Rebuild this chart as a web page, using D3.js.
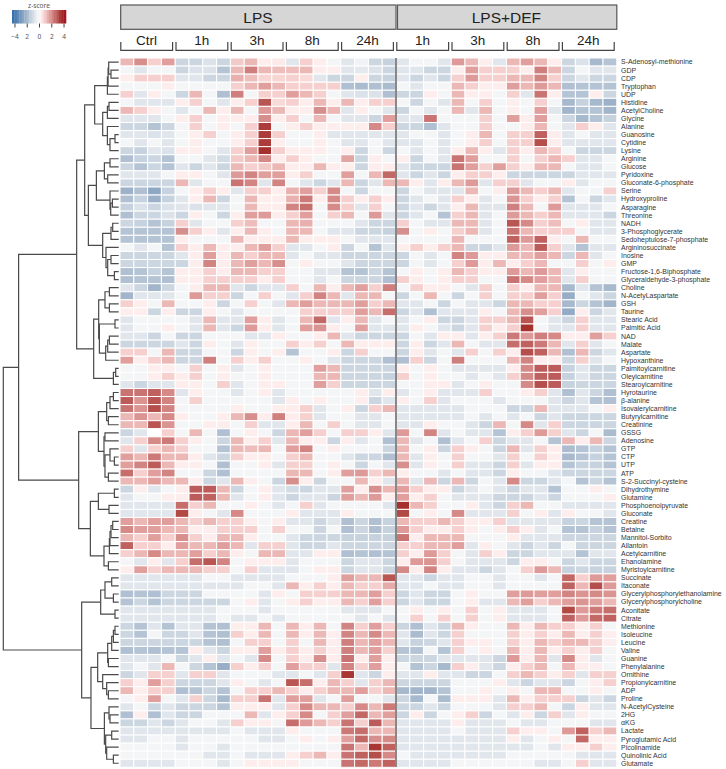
<!DOCTYPE html>
<html>
<head>
<meta charset="utf-8">
<script src="https://cdn.jsdelivr.net/npm/d3@7"></script>
<style>
    body{margin:0;background:#fff;}
    svg{display:block;}
    text{font-family:"Liberation Sans",Arial,sans-serif;}
    .rowlabel{font-size:6.95px;fill:#333;}
    .legend text{font-family:"Noto Sans",sans-serif;font-size:6.6px;fill:#555;}
    .treeline{fill:none;stroke:#4a4a4a;stroke-width:1.2;}
</style>
</head>
<body>
<script>
var w=726,h=769;

var metabolites=["S-Adenosyl-methionine","GDP","CDP","Tryptophan","UDP","Histidine","AcetylCholine","Glycine","Alanine","Guanosine","Cytidine","Lysine","Arginine","Glucose","Pyridoxine","Gluconate-6-phosphate","Serine","Hydroxyproline","Asparagine","Threonine","NADH","3-Phosphoglycerate","Sedoheptulose-7-phosphate","Argininosuccinate","Inosine","GMP","Fructose-1,6-Biphosphate","Glyceraldehyde-3-phosphate","Choline","N-AcetyLaspartate","GSH","Taurine","Stearic Acid","Palmitic Acid","NAD","Malate","Aspartate","Hypoxanthine","Palmitoylcarnitine","Oleylcarnitine","Stearoylcarnitine","Hyrotaurine","β-alanine","Isovalerylcarnitine","Butyrylcarnitine","Creatinine","GSSG","Adenosine","GTP","CTP","UTP","ATP","S-2-Succinyl-cysteine","Dihydrothymine","Glutamine","Phosphoenolpyruvate","Gluconate","Creatine","Betaine","Mannitol-Sorbito","Allantoin","Acetylcarnitine","Ehanolamine","Myristoylcarnitine","Succinate","Itaconate","Glycerylphosphorylethanolamine","Glycerylphosphorylcholine","Aconitate","Citrate","Methionine","Isoleucine","Leucine","Valine","Guanine","Phenylalanine","Ornithine","Propionylcarnitine","ADP","Proline","N-AcetylCysteine","2HG","αKG","Lactate","Pyroglutamic Acid","Picolinamide","Quinolinic Acid","Glutamate"];

var treatments=["LPS","LPS+DEF"];
var lpsGroups=["Ctrl","1h","3h","8h","24h"];
var defGroups=["1h","3h","8h","24h"];
var legendTicks=[-4,-2,0,2,4];
var legendTickLabels=["−4","2","0","2","4"];

// z-scores, Ctrl 1h 3h 8h 24h, 4 replicates each
var lpsValues=[
[1.3,2,.9,1.7,-1.2,-1.2,-.8,-1.2,1,1.3,.3,.4,-.7,.9,.3,-.2,-.7,-.3,-1.2,-1.3],
[-.2,-.7,-.2,-.2,-1.2,-.8,-.8,-1.7,1.3,2.3,1.3,1.2,1.2,1.3,.3,.3,-.7,-.6,-.8,-1.2],
[.3,.9,.9,.9,-.7,-.7,-1.2,-1.2,1.4,1.2,.8,.8,.9,.7,-.7,-1.2,-1.2,.3,-1.2,-1.3],
[-.2,-.2,-.2,.3,-.2,-.2,-.2,-.2,.9,1.3,1.7,1.3,.9,.9,.9,.9,-1.8,-1.9,-1.8,-1.9],
[.9,-.7,.3,-.2,-1.2,1.3,-.2,-1.8,2.3,-.2,.9,.9,1.7,1.3,.9,-.2,-.7,-.8,-.8,-1.8],
[-.2,-.7,-.7,-.7,.3,.9,-.2,-.7,.3,.9,3,.7,.9,.3,1.3,.3,1.3,.3,.9,.9],
[1.3,.9,.3,-.2,-.7,-.2,1.3,.3,1.3,-.2,1.8,1.3,.3,.3,2,1.3,-.7,.3,-.2,-.7],
[-.7,-.7,-.7,-.2,.3,.9,-.2,.3,.3,.3,2,.3,.9,-.2,1.3,-.2,-.7,-.7,-1.2,1.7],
[-1.2,-1.2,-1.7,-1.2,-.2,.9,-.2,.3,-.2,.9,3.4,-.2,.3,.9,.3,.3,.3,.3,2.1,.9],
[-.7,-.7,-.8,-.7,-.2,.3,.9,-.2,.3,.9,3.4,.9,-.2,-.2,.3,-.7,-.7,-.7,-.7,-.7],
[-.2,-.7,-.2,-.7,-.2,.3,-.2,-.2,.3,.9,3.4,.3,-.2,-.2,.3,-.2,-.7,-.7,-.2,-.7],
[-1.2,-1.3,-.7,-.8,.3,.3,-.2,-.7,.9,1.7,3.6,.9,.3,.3,.3,-.2,.3,-1.2,-.2,-1.2],
[-1.8,-1.3,-1.2,-1.7,-.2,-.2,-.7,-1,1,1.3,2.1,.3,.9,.3,-.2,-.2,1.6,-1.2,.3,-.2],
[-1.2,-1.7,-1.2,-1.7,-.7,-1.2,-.7,-1.2,1.3,.9,1,1.3,.3,.3,1.3,.3,.3,-1.2,.3,.3],
[-.7,-.7,-.7,-.2,.3,.3,-.2,-.7,1.8,2.2,1.7,1.7,.3,.9,-.2,-.2,1.7,-.2,1.3,2.7],
[-1.2,-1.2,-1.2,-1.2,1.3,-.7,-.2,-.2,2.5,2.2,-.7,2.2,-.2,-.7,-1.2,-.7,1.3,-1.2,-.7,1.3],
[-2.2,-1.8,-2.5,-1.3,-.2,.3,.9,.3,-.7,.9,.9,.3,1.4,1.7,.9,2.1,-.2,-1.2,-.2,-.2],
[-1.8,-1.3,-2.2,-1.3,-.7,.3,1.3,-1.2,-.2,1.3,.3,.3,1.4,2.4,.3,2.1,.9,.3,.9,.3],
[-1.3,-.8,-1.2,-.8,-.7,-.8,-.7,-.7,-.2,1.3,.3,.3,2.2,2.6,-.2,2.1,.9,-.7,.9,-.2],
[-1.8,-1.2,-1.2,-.8,-1.2,.3,-.2,-1.2,.3,1.7,1.8,.3,.9,1.7,-.2,.9,1.3,-.2,1.8,-.7],
[-1.2,-1.3,-1.7,-1.3,.9,-.7,-.2,-.2,.9,1.2,-.2,-.2,1.3,1.4,-.2,-.2,-.2,-.7,-1.2,-1.2],
[-1.7,-1.7,-1.7,-1.7,2,.9,.3,-.7,.3,1.3,.3,-.2,1.3,1.3,-.2,-.7,-.7,-1.2,-1.2,-1.3],
[-1.7,-1.7,-1.7,-1.7,.3,-.2,-.2,-.2,1.3,.3,.3,.3,1.3,.3,.3,.3,-.2,-.7,-.7,-.7],
[-.2,-.7,-.2,-1.7,.9,.3,1.3,.3,.3,1.3,1.7,.9,-.7,-.7,-.2,.3,-1.2,-.2,-1.7,-.7],
[-1.2,-1.2,-1.2,-1.2,-.7,.3,1.7,.3,1.3,.9,1.3,1.3,-.7,-.2,-.7,-.7,-1.2,-1.2,-1.2,-1.2],
[-1.2,-1.2,-1.2,-1.2,-1.2,.3,2.2,.3,1.3,1.7,1.3,2,-.2,.3,-.2,-.2,-.7,-1.2,-1.2,-1.2],
[-1.8,-1.7,-1.3,-1.7,.3,.3,.9,.3,1.3,1.3,.9,.9,-.2,-.2,-.7,-.7,-1.7,-1.7,-1.2,-1.7],
[-1.8,-1.7,-1.7,-1.8,.3,.3,.9,.9,.9,.9,.3,.9,-.2,-.2,-.7,-.2,-1.2,-1.2,-1.2,-1.8],
[-.7,-1.2,-2.1,-1.2,-.2,.3,1.3,1.3,-.7,-1.2,-.7,-.7,.9,-.2,1.3,.3,1.3,1.7,.9,2.3],
[-2.1,-.7,-.7,-.7,-.2,1.8,.9,.9,-1.2,-.2,.9,-.2,-.7,.9,2.2,1.3,-.7,1.3,1.3,-.2],
[.9,.3,-.2,1.3,-.2,-.2,.3,-1.2,-.2,.9,-.2,-.7,1.3,1.7,1.3,1.3,1.3,1.7,.9,1.3],
[.3,.3,-1.2,.3,-1.2,-1.2,.3,-.2,-.7,-.2,-.2,-.2,-.2,.9,.9,.9,.9,1.7,1.3,2.6],
[-.7,-.2,-.2,-.2,-.2,-.7,1.3,-.7,-.7,1.7,.3,-.7,-.2,1.3,2.7,-.7,.3,1.3,-.7,-.2],
[-.7,-.2,-.2,.3,-.2,-.7,1.3,-.7,-1.2,1.8,.3,-.7,-.2,1.7,1.9,.3,-.2,1.7,-.7,-.7],
[-.7,-.7,-1.2,-.2,-1.2,-1.2,-.2,-.2,-.2,-.7,-.7,.3,-.2,-.2,.3,1.3,-.7,-1.2,-1.2,-1.2],
[-1.2,-1.2,-1.2,-1.2,-.7,-1.2,.3,-.2,-.7,.3,-.2,-.2,.9,.3,.9,-.2,1.3,.3,.3,.3],
[.9,.9,-.2,1.3,-1.2,-1.2,-.2,-.2,-1.2,.3,-.2,.3,-1.7,-.2,-.2,.3,-1.2,.9,-.2,-.2],
[1.7,.3,.9,1.3,-1.2,-1.2,2.3,-.2,.9,.3,.9,-.2,-.2,.3,-.2,-.7,-1.2,-1.2,-1.2,-1.8],
[-.2,-.2,.3,.3,-.2,.9,-.2,.3,-.7,-.2,.3,-.2,-.2,-.2,1.7,1.3,-1.2,-1.2,-1.2,-1.2],
[-.2,-.2,.3,.9,.3,.9,-.2,.3,-.2,-.2,.3,-.2,-.2,-.2,1.3,1.3,-1.2,-1.2,-1.2,-1.3],
[-.7,-1.2,-.7,-.7,.3,.3,-.2,.9,-.7,-.2,.3,.3,-.2,-.2,1.7,.9,-1.2,-1.2,-1.2,-1.2],
[2.5,2.5,2.8,2.1,-.7,.3,-.2,-.2,-.7,-.2,.3,-.7,-.2,-.2,-.2,-.2,-.2,.3,-.7,.3],
[2.9,1.9,3,2.2,-.2,.9,-.2,-.2,-.2,-.2,-.2,-.7,.3,-.2,.3,-.2,-.2,.3,-1.2,-.7],
[2.5,1.9,3.1,2.2,-.2,-.2,-.2,-.2,.3,-.2,-.2,.3,.3,.9,-.7,-.2,.3,-1.2,.9,1.3],
[1.3,1.9,1.3,2.1,.3,-.2,-.2,.3,1.3,2,.3,2.3,.3,.9,-.7,-.2,-.2,-.7,-.7,-.2],
[1.3,1.3,3,1.9,-.2,-.2,.3,.3,-.2,.9,-.7,-.7,.3,1.3,-.2,.9,-.2,-.7,-.7,-.2],
[-1.2,-.7,0,.9,-.2,1.3,-.2,-1.8,-.2,.3,-.2,-1.2,1.3,1.7,.9,-.2,.9,.9,.3,-.7],
[-.7,.9,2.1,2.4,.9,.3,-.2,-1.2,1.3,.3,.9,-.7,1.3,.3,.3,-1.2,.3,-.7,-.2,-1.8],
[.9,-.7,.9,1.3,.9,-.2,-.2,-1.7,1.3,1.2,1.3,-.2,1.7,2.2,-.2,.3,-.2,-.2,-.2,-1.2],
[1.7,1.3,2.4,1.3,1.3,.3,-.7,-1.2,.9,.3,.3,-.2,.9,1.3,-.2,-.2,-.7,-1.2,-1.2,-1.8],
[1.7,2.2,2.9,1.3,.3,.3,-.2,-1.8,-.2,-.2,.3,-.7,.9,.9,-.2,.3,-.2,-1.2,-.2,-.7],
[2.6,.9,1.7,2.2,-.2,-.2,-1.2,-1.8,-.2,-.2,-.2,-.2,1.3,1.3,-.2,.3,1.7,1.8,.9,1.3],
[1.3,1.3,1.7,1.3,1.3,.3,-1.2,-.7,1.3,.3,-.2,-1.2,2,.3,-1.2,-.2,-.2,1.3,.3,-.7],
[-1.2,.3,-.7,-.2,.3,2.9,2.9,1.3,-1.2,-.2,.3,-.7,-1,-1.2,-.7,-.7,1.7,.3,2,1.3],
[-.7,-.2,-.2,.3,.3,2.9,2.8,1.3,-.7,-.2,.3,-.7,-1.2,-.7,-.7,-1.2,1.7,1.3,1.8,.3],
[-.7,-.7,-.7,-.7,2.6,.9,1.3,-.2,-.2,.3,-.2,-.7,-.2,.9,-.7,-.2,-.2,-.2,-.2,-.7],
[-.7,-.7,-.7,-.7,3.2,.3,-.2,-.7,2.1,-.2,-.2,-.2,.3,-.7,-.7,-.7,.3,-.2,-.2,-.2],
[1.7,1.3,1.7,1.7,1.3,.9,1.3,.9,.9,.3,-.2,.3,-.7,-.7,-1.2,-.7,-1.8,-1.2,-1.8,-1.3],
[2.1,1.7,1.7,1.3,1.3,.3,.3,.9,.9,.9,-.2,.9,-.2,-.2,-1.2,-.2,-1.8,-1.2,-1.8,-1.3],
[1.3,.9,1.7,.9,2,.9,.3,1.3,1.3,.3,-.2,-.2,-.7,-1.2,-1.2,-1.2,-1.3,-1.3,-1.3,-1.3],
[2.8,.9,.9,.3,1.7,1.3,1.3,1.7,1.3,-.7,.9,.9,-.7,-1.2,-1.2,-.7,-1.2,-1.2,-1.2,-1.2],
[.9,1.3,2.1,1.3,1.3,1.7,.9,1.3,.3,-.2,1.3,1.3,-.7,-.7,.3,.3,-1.8,-1.7,-1.8,-1.7],
[-.2,-.7,.3,-.7,.9,2.6,3,2.2,-.2,.3,.3,.3,-.7,-.2,-.2,-.2,-1.2,-.7,-.7,-1.2],
[.3,1.7,.9,1.3,1.3,1.3,.9,.9,-.2,.9,-.7,-.7,-.7,-.2,.3,.3,-1.2,-.7,-.7,-1.2],
[-.7,-.7,-.7,-.7,-.7,-.7,-.2,-.2,-.7,-.7,-.7,-.7,-.2,-.2,-.2,.3,1.7,1.3,1.3,3],
[-.7,-.7,-.7,-.7,-.7,-.7,-.7,-.7,-.7,-.2,-.2,-.7,1.3,.3,.9,.3,1.3,.9,.9,1.5],
[-1.8,-1.7,-1.8,-1.2,-1.2,-1.2,-.2,-.2,-.2,-.2,-.7,.3,-.2,.9,.9,.9,1.3,1.3,1.7,.9],
[-1.7,-1.2,-1.7,-1.2,-1.2,-1.2,-1.2,-1.2,-.2,.3,-.7,-.2,.3,.9,.3,.3,1.3,.9,1.7,.9],
[-.7,-.7,-.7,-.7,-.7,-.7,-.7,-.2,-.2,-.2,-.7,-.2,-.2,-.2,-.2,-.2,-.7,-.7,-.7,-.2],
[-.7,-.7,-.7,-.7,-.7,-.7,-.7,-.2,-.7,-.7,-.2,-.7,-.2,-.2,-.2,-.2,-.2,-.7,-.2,-.7],
[-1.2,-1.7,-.7,-1.7,-.7,-.7,-1.7,-1.8,.3,.3,1.3,-.2,1.3,.3,1.3,-.2,2.2,.9,1.7,.9],
[-1.2,-1.7,-.2,-1.2,-1.2,-.7,-1.7,-1.8,.9,.3,1.3,-.2,1.3,.3,1.3,.3,2.2,1.3,2.1,1.3],
[-1.2,-1.2,-1.2,-1.2,-1.2,-1.2,-1.7,-1.8,-.2,.9,.9,-.2,.9,-.2,1.3,.3,2.3,1.3,1.7,1.3],
[-1.8,-1.7,-1.8,-1.7,-1.7,.3,-.7,-1.2,.3,.3,1.7,.3,.9,.3,.9,.3,2.3,1.3,1.7,.9],
[-.7,-.7,-.7,-.2,-1.2,-.7,.3,-.7,-.2,-.7,2.1,-.2,.9,.3,2,.3,2.5,.3,1.7,.3],
[-.7,-.2,-.7,1.3,-.2,-1.2,-1.7,-2.3,.9,.3,.9,-.2,1.7,.9,.9,-.7,2.2,.9,1.7,.3],
[-1.2,-.7,.9,.9,-.7,.9,.9,-.7,-.2,-.2,-.2,-.7,-.7,-.2,-.7,.9,3.5,-.7,-1.2,.3],
[.9,.3,1.7,.9,-1.2,-1.2,-1.2,-.7,.3,-.2,-.7,-.2,3,2.6,.3,1.3,.9,-.7,.9,1.3],
[1.3,.3,.9,.9,-1.8,-1.7,-1.2,-1.7,-.2,.9,.9,1.3,.9,.3,.9,1.3,1.3,1.7,.9,1.3],
[-.2,.3,1.7,-.2,-.7,.9,-1.2,-2,.9,.9,2.5,-.7,1.7,1.7,-.7,-.2,1.7,-.2,-.2,-.7],
[-.7,-.2,-1.2,-.7,-1.2,-1.2,-1.2,-1.7,.3,.3,.3,-.7,.9,2.1,1.3,1.3,.9,2.1,1.3,2.4],
[-1.8,.3,-1.8,-.7,-1.2,-1.2,-.2,-.2,-.2,1.3,-.7,.3,.9,2.1,-.2,.9,1.7,2.7,1.3,1.7],
[-1.2,-1.2,-.7,-1.2,-.7,-.2,-.2,-.7,.9,.3,.3,-.2,2.6,1.8,1.3,.9,2.5,.9,2.9,1.3],
[-.7,-.7,-.7,-.7,-.7,-.7,-.7,-.7,-.2,-.7,-.7,-.7,.3,-.2,-.2,-.2,2.4,2.6,1.3,1.3],
[-.7,-.7,-.2,-.2,-.7,-.2,-.2,-.2,-.2,-.2,-.7,-.7,-.2,.3,-.2,.3,1.7,2.7,2,2.1],
[-.2,-.2,-.2,-.2,-.7,-.2,-.2,-.7,-.2,-.2,-.2,-.2,-.2,-.2,-.2,-.2,2.5,1.3,3.5,2.8],
[-.2,-.2,-.2,-.2,-.2,-.2,-.7,-.7,-.2,-.7,-.7,-.7,.3,.9,1.3,.3,2.5,2.8,3.1,2.1],
[-.7,-.7,-.7,-.7,-.2,-.2,-.2,-.7,-.2,.3,.3,.3,.3,-.2,-.2,-.2,2.5,2.7,2.4,2.8]
];

// z-scores, 1h 3h 8h 24h, 4 replicates each
var defValues=[
[-.7,-.2,-.2,-.7,1.8,1.3,.3,-.7,1.3,1.7,1.3,.3,-1.2,-.8,-2,-1.7],
[-.7,-.7,-1.2,-1.2,.3,1.7,.9,.9,.9,.3,2.3,1.3,-1.2,-.2,-.7,-.7],
[-.7,-1.2,-.7,-1.2,.9,1.8,.9,.9,1.3,1.3,2.2,.9,-1.2,-.7,-1.2,-1.2],
[-.2,-.7,-.2,-.2,1.3,.9,.3,.3,1.7,1.3,1.8,1.3,-1.8,-1.7,-1.7,-1.7],
[-1.2,-1.2,.3,-.2,1.3,.3,.3,-.2,.9,-.7,2.5,.3,-1.7,-1.7,.3,-1.2],
[-.2,-1.2,-.2,-.7,1.3,-.2,.9,-.2,.3,-.2,.9,-.2,-2,-1.3,-2,-2.2],
[-1.2,-.2,-.7,-.2,1.3,-.7,1.3,-.2,.3,-.2,1.7,-.7,-2.1,-1.7,-1.7,-2.1],
[-.7,-.7,2.5,-.2,-.2,-.2,.9,-.2,1.7,.3,1.7,-.2,-1.2,-2,-1.7,-1.3],
[-1.2,-1.2,-1.8,-.7,-.2,-.2,.9,-.2,-.2,.3,1.3,-.2,-.7,.9,.3,-.7],
[-.7,-.2,-.2,-.7,-.2,.3,1.3,-.2,.9,.9,2.8,.3,-.7,-.2,-.7,-.7],
[-.7,-.7,-.2,-.7,-.2,.3,.9,-.2,.9,.9,3.1,.3,-.7,-.7,-.7,-.7],
[-.2,-.7,-.2,-.7,.3,1.3,.3,-.7,.9,.3,1.3,.9,-.2,-1.2,-1.2,-1.2],
[.3,-1.2,-.2,-.7,2.5,1.7,-.2,-.2,.9,-.2,.9,1.3,.9,-.7,-.7,-.2],
[-.7,-1.2,-1.2,-1.2,2.5,1.7,.9,1.7,.9,.3,1.3,1.3,-.2,-.7,-.7,-.2],
[-.7,-1.2,-.7,-1.2,.3,.9,.9,.3,-1.2,-1.2,-1.2,-1.2,-1.2,-.7,-.7,-.7],
[1.3,.3,-.7,.3,1.3,1.8,-.7,.9,.9,-.7,-.2,-.2,.3,-.7,-.2,-.2],
[-1.2,-.2,-.7,-.7,-.7,1.3,-.2,.3,1.8,1.3,.9,1.3,-.7,-.2,-.2,.9],
[-1.2,-.7,-.2,-.7,.9,.3,-.7,-.2,1.9,.9,.3,.9,-1.7,-.2,-1.2,-.7],
[-1.2,-.7,-1.2,-.7,.3,1.3,-.7,-.7,2.3,1.3,-.2,1.8,-.7,-.7,-.7,-.2],
[-1.2,-.7,-.2,-1.7,.9,1.3,-.7,-.2,1.8,1.3,.9,1.3,-.7,-.7,-.7,-1.2],
[.9,-.2,-.7,-.7,1.3,1.3,-.7,-.2,3,2.1,.9,1.2,-.2,.3,-.7,-.7],
[2,-.2,.3,-.2,.9,1.3,-.7,-.2,2.5,1.3,.9,.9,.9,-.2,-.7,-.7],
[-.2,-.2,-.2,-.2,1.3,-.2,-.2,-.2,2.8,1.8,2.8,.3,-.2,1.3,-.2,-.2],
[.3,.9,.3,.9,1.3,-1.2,-1.2,-.7,1.8,1.3,2.9,.9,-.7,-1.7,-.7,-.7],
[-1.2,-.2,-.7,-.2,2.2,1.8,.3,.3,1.3,1.3,1.7,1.3,-1.2,1.3,-.7,-.2],
[-1.2,-.2,-.7,-.2,.9,1.8,.3,1.3,.3,.9,1.3,-.2,-.2,.9,-.2,.3],
[-.2,.3,-.2,.3,1.3,.9,.3,.3,1.8,1.3,1.8,1.3,-.7,.3,-.2,-.2],
[.9,.3,-.2,.3,.9,.9,-.2,-.2,2.5,2.1,1.7,1.3,-.7,.9,-.2,-.2],
[-.2,.9,.3,.3,-.2,-.7,.9,-.2,.9,.3,1.3,1.3,-2,-.7,-1.7,-2],
[-1.2,-.2,1.3,-.2,-1.2,-.2,.9,-.2,.9,.9,1.7,.9,-2.3,-.2,-.7,-1.2],
[-.7,-.7,-.2,-1.2,-.2,-.7,-.7,-1.2,1.3,1.3,.9,.9,-2,-1.2,-1.7,-2.1],
[-1.2,-.7,-1.8,-.7,-.7,-.7,.3,-.2,1.3,2,1.7,.9,-2.4,.3,-1.2,-.7],
[-.7,-.2,.3,-1.2,-1.2,-.7,.9,.9,1.3,3,-.2,-.7,-1.2,.9,-.7,-.7],
[-.7,.3,-.2,-.7,-1.2,-.7,.9,.3,.9,3.6,-.2,-.7,-.7,.9,-.7,-.7],
[-1.2,-.2,-.7,.3,.3,-.7,.3,.9,2.4,1.8,2.3,2.1,.3,.3,1.7,.9],
[-1.2,.3,-1.2,-.7,1.3,-.2,-.7,-.7,2.6,2.8,2.4,1.3,-.7,.9,-.7,-.2],
[-1.2,.3,-.7,-.2,-.7,.9,-.2,.9,.3,3.1,2.8,1.3,-1.8,1.3,-1.2,-.7],
[-1.8,.9,-1.2,-.2,2.3,-.2,-.2,-.2,1.3,2.2,.3,.3,-1.2,.9,-.7,-.2],
[.3,-.2,.3,-.2,-.7,-.7,-.7,-.7,.3,2.1,2.9,2.9,-1.3,-.7,-1.2,-1.2],
[.9,-.2,.3,-.2,-.2,-.7,-.2,-.7,.9,2.1,2.8,2.9,-1.3,-.7,-1.2,-1.2],
[-.2,-.2,.3,.3,-.7,-.2,.3,-.2,-.2,2.1,3.1,2.9,-1.3,-1.2,-1.2,-1.2],
[-.7,-.2,.3,-.7,-.7,-.7,.9,-.2,-.2,.3,.9,-.7,-1.8,-.7,-1.2,-1.8],
[.3,-.2,.9,-.7,-.2,-.2,-.2,-.7,-.2,-.2,-.2,-.7,-1.2,-.7,-1.7,-1.8],
[-.7,-.7,-.7,-.7,-.7,-.2,-.2,-.2,-1.2,-1.2,1.3,-.7,-.7,-.7,-.2,.3],
[-.7,-.7,-.7,-.7,-.7,-.2,-.7,-.2,-.7,-.2,-1.2,-.7,-1.2,-1.2,-1.2,-1.2],
[-.7,-.7,.3,-.2,-.2,-.7,-1.2,1.3,-.2,2.1,-.7,.9,-1.2,-1.2,-1.2,-1.2],
[1.8,-.2,2.2,-.7,-.2,-.7,-.7,-1.7,.3,.9,1.8,.9,-.7,-1.2,-.2,-1.9],
[1.3,-.7,-.2,-1.8,-.7,-.2,.9,-1.2,-.7,-.7,-.2,-1.7,1.3,.3,1.3,-1.2],
[1.3,-.2,.3,-1.2,.9,.3,-.2,-1.2,1.3,-.7,.9,.3,-1.9,-1.7,-1.3,-1.7],
[1.3,-.7,.3,-.2,.9,-.2,-.2,-.7,.9,-.2,.9,.3,-2,-1.7,-1.3,-1.7],
[2,-.7,.3,-.2,.9,-.7,-.7,-1.2,.9,-.7,.3,.3,-1.7,-1.3,-1.3,-1.7],
[.3,-.2,-.2,-.7,-.2,-.7,-.7,-1.2,.3,-.2,-.2,-.7,-1.2,-1.2,-1.2,-1.2],
[1.3,-.7,1.3,-1.2,1.3,-1.2,-.2,-.7,2.1,-1.2,-1.2,-.7,-.2,-1.7,-1.2,-1.7],
[1.7,.9,.3,.3,-1.2,-.7,-.2,-.7,-1.2,-.7,-.7,-1.7,-.2,-.2,.3,-.2],
[1.7,.3,.9,-.2,-.7,-.7,-.7,-1.2,-1.2,-1.2,-.7,-1.2,-.2,-.2,-.2,.3],
[3.6,1.3,.9,-.2,-.2,.3,-.7,-1.2,.9,1.3,-.2,-.2,-.7,-.7,-.7,-.7],
[3.2,-.2,.3,-.2,2.1,-.7,-.7,-.7,.9,-.2,.3,-.7,.3,-.2,-.2,-.7],
[1.3,.9,.9,1.3,.9,.3,.3,.9,-.7,-.7,-.7,-.7,-1.3,-1.2,-1.7,-1.7],
[1.8,.9,.3,.3,.9,.3,-.2,.3,.9,.3,-.7,-.2,-1.7,-1.7,-1.3,-1.7],
[2.5,.3,1.3,1.3,1.3,-.2,-.2,-.2,.3,-.7,-.7,-.7,-1.2,-1.2,-1.2,-1.2],
[.9,.9,1.3,1.3,1.7,-.7,.3,-.2,-.7,-1.2,-.7,-1.2,-.2,-1.2,-1.2,-1.2],
[.9,.3,1.8,.9,-.2,-.7,.9,.3,-1.2,-1.2,-.7,-.7,-.7,-1.7,-.7,-.7],
[.3,1.8,1.9,.9,-.2,-.7,-.7,-.7,-1.2,.3,.3,-.2,-1.2,-.7,-1.2,-1.2],
[2.1,.3,2.2,.3,-.7,-.7,-1.2,-.7,-.2,.9,1.8,1.3,-1.3,-1.2,-1.3,-1.3],
[-.7,-.7,-1.2,-.7,-.7,-.2,-.2,-.7,-.2,-.2,-.7,-.2,2.7,.9,1.8,1.7],
[-.7,-.7,-.2,-.7,-.7,-.2,-.2,-.7,-.2,-.2,-.2,-.2,2.8,1.3,3.1,1.8],
[-1.2,-.7,-1.2,-1.2,-.2,.3,-.2,-.2,1.7,1.8,1.7,1.7,2.2,1.9,2.1,1.9],
[-1.2,-.7,-1.2,-1.2,-.2,.3,-.7,-.7,1.3,1.7,.9,1.3,1.7,1.9,1.7,1.3],
[-.2,.3,-.2,.3,-.2,.9,-.2,.3,-.7,-.7,-.7,-.2,3.2,1.8,2.4,2.6],
[-.2,.9,-.2,.9,-.2,.9,-.2,.3,-.7,-.7,-.7,-.2,2.8,1.8,2.7,2.8],
[-1.2,-1.8,-.7,-1.2,1.3,.3,-.2,-.2,1.3,.3,1.3,.9,.9,.3,.9,-.2],
[-.7,-1.9,-.7,-1.2,.9,-.2,-.2,-.2,.9,.3,.9,.3,1.3,.3,.9,.3],
[-.7,-1.3,-1.2,-.7,.9,.3,.3,-.2,.9,.3,1.3,.9,1.3,1.3,.9,.3],
[-1.7,-1.7,-.2,-1.7,.9,-.2,.3,-.2,1.3,.3,1.3,.3,.9,.3,.9,-.2],
[-1.2,-1.2,-1.2,-.7,-.7,-.7,-.7,-1.2,1.8,.3,1.3,-.7,2.1,.3,-.7,-.2],
[-.2,-1.7,-1.2,-2,.9,.3,-.7,-1.2,.3,.9,1.3,-.2,1.3,.3,.3,-.2],
[-.7,-.7,.3,-.7,-.7,-1.2,-1.2,-.2,.9,1.3,.9,.3,.9,-.7,.9,.9],
[-1.2,-1.2,-1.2,-1.2,-.2,-.2,-.2,.3,-.7,-1.2,-.7,-.7,-1.2,-.2,.3,.9],
[-2,-2.1,-2.1,-1.7,-.2,-.2,.3,-.2,.3,-.2,1.3,1.3,-.2,-.2,.3,-.2],
[-1.2,-2,-.2,-1.9,.3,.3,.3,-.7,1.3,.3,.9,.9,.9,-1.2,-.7,-1.2],
[-1.2,-1.2,-.7,-1.2,-.2,-.2,-.2,-.7,.9,.9,1.3,-.2,-1.2,.3,-.7,-.7],
[-1.2,.3,-1.2,-.2,.3,.9,-1.2,-.2,-.7,.3,-1.2,.9,-.7,.3,-.2,-.2],
[-.7,-.7,-.7,-.7,.3,-.7,-.7,-.7,-.2,-.7,-.7,-.2,-.2,-.2,-.7,-.7],
[-.7,-.7,-.7,-.7,-.2,-.7,-.7,-.7,.9,.3,.3,-.2,1.8,2.8,.9,1.3],
[-.7,-.7,-.7,-.7,-.7,-.7,-.7,-.7,.3,-.7,-.2,.3,-.2,2.7,.3,.3],
[-.7,-.7,-.7,-.7,-.7,-.7,-.7,-.7,-.7,-.7,-.2,-.7,.3,.3,.9,.3],
[-.2,-.7,-.7,-.7,-.7,-.7,-.7,-.7,-.2,-.2,-.2,-.2,-.2,-.7,-.7,-.7],
[-.7,-.7,-.7,-.7,-.2,-.2,-.2,-.2,-.2,-.2,-.7,-.7,-.2,.9,-.7,-.7]
];

// [merge height, upper branch, lower branch], a plain number is a row (1 based)
var clusterTree=[115.3,
  [100,
    [42,
      [34,
        [24,
          [11.3,[10.6,[10,1,[7.7,2,3]],4],5],
          [16,
            [11.3,[9.7,6,7],8],
            [11.3,9,[8.7,[3.7,10,11],12]]]],
        [30.3,
          [22.3,
            [14.3,[8.7,13,14],[11,15,16]],
            [8.7,17,[8,[6.3,18,19],20]]],
          [16,
            [7.7,[6,21,22],23],
            [12.7,24,[11,[7.7,25,26],[4.3,27,28]]]]]],
      [25,
        [20,
          [13.7,[9.3,29,30],[9.3,31,32]],
          [19.3,
            [3.7,33,34],
            [13,[11,[9.3,35,36],37],38]]],
        [5.3,[3,39,40],41]]],
    [40,
      [20.3,
        [12,[8.7,[5.3,42,43],44],[10.3,45,46]],
        [14.7,
          [13.7,47,48],
          [13.7,[8.7,49,[4.3,50,51]],[10.3,52,53]]]],
      [28.3,
        [20.3,[4.3,54,55],[9.7,56,57]],
        [14.7,
          [9.3,[8.7,[7.7,[6,58,59],60],61],62],
          [10.3,63,64]]]]],
  [37,
    [18,
      [13.7,[7,65,66],[5.3,67,68]],
      [3.7,69,70]],
    [27.7,
      [21,
        [11,[7,[5.3,[3.7,71,72],73],74],[10.3,75,76]],
        [16,77,[12,78,[10.3,79,80]]]],
      [14.3,
        [9.7,81,[8.7,82,83]],
        [13,[7,84,85],[12,86,[5.3,87,88]]]]]]];

var svg=d3.select('body').append('svg').attr('width',w).attr('height',h);

var columns=d3.range(36);
var xScale=d3.scaleBand().domain(columns).range([120,616.8]);
var yScale=d3.scaleBand().domain(metabolites).range([58,767.3]);
var colorStops=[-4.4,-2.1,-1.2,-.2,0,.3,.9,1.7,2.5,3.6,4.4];
var colorScale=d3.scaleLinear().domain(colorStops)
    .range(["#2f6aa8","#a2b5ca","#cbd6e1","#f4f5f7","#ffffff","#fdeeed","#f5d0ce","#e09f9d","#c97472","#a5302c","#a01020"])
    .clamp(true);

//heatmap cells
var cells=[];
metabolites.forEach(function(m,i){
    lpsValues[i].concat(defValues[i]).forEach(function(v,j){
        cells.push({row:m,col:j,value:v});
    });
});
svg.append('g').selectAll('rect').data(cells).enter().append('rect')
    .attr('x',function(d){return xScale(d.col)})
    .attr('y',function(d){return yScale(d.row)})
    .attr('width',xScale.bandwidth())
    .attr('height',yScale.bandwidth())
    .attr('fill',function(d){return colorScale(d.value)})
    .attr('stroke','#fff')
    .attr('stroke-width',1);

//divider between treatments
svg.append('line')
    .attr('x1',xScale(20)).attr('x2',xScale(20))
    .attr('y1',58).attr('y2',767)
    .attr('stroke','#888').attr('stroke-width',2);

//row labels
svg.append('g').selectAll('text').data(metabolites).enter().append('text')
    .attr('class','rowlabel')
    .attr('x',621)
    .attr('y',function(d){return yScale(d)+yScale.bandwidth()/2})
    .attr('dy','.35em')
    .text(function(d){return d});

//treatment boxes
var boxes=[{name:treatments[0],from:0,to:19},{name:treatments[1],from:20,to:35}];
var box=svg.append('g').selectAll('g').data(boxes).enter().append('g');
box.append('rect')
    .attr('x',function(d){return xScale(d.from)+(d.from?1.5:.7)})
    .attr('y',5)
    .attr('width',function(d){return xScale(d.to)+xScale.bandwidth()-xScale(d.from)-(d.from?1.5:.7)})
    .attr('height',24.3)
    .attr('fill','#d6d6d6')
    .attr('stroke','#555')
    .attr('stroke-width',1.2);
box.append('text')
    .attr('x',function(d){return (xScale(d.from)+xScale(d.to)+xScale.bandwidth())/2})
    .attr('y',23)
    .attr('text-anchor','middle')
    .attr('font-size',15.5)
    .attr('fill','#222')
    .text(function(d){return d.name});

//time point brackets
var brackets=[];
lpsGroups.forEach(function(g,i){brackets.push({name:g,from:i*4})});
defGroups.forEach(function(g,i){brackets.push({name:g,from:20+i*4})});
var bracket=svg.append('g').selectAll('g').data(brackets).enter().append('g');
bracket.append('path')
    .attr('fill','none')
    .attr('stroke','#444')
    .attr('stroke-width',1.2)
    .attr('d',function(d){
        var x0=xScale(d.from)+.8,x1=xScale(d.from+3)+xScale.bandwidth()-2.6;
        return 'M'+x0+' 42V50.4H'+x1+'V42';
    });
bracket.append('text')
    .attr('x',function(d){return xScale(d.from)+xScale.bandwidth()*2-1})
    .attr('y',45)
    .attr('text-anchor','middle')
    .attr('font-size',13.5)
    .attr('fill','#222')
    .text(function(d){return d.name});

//dendrogram
var hScale=d3.scaleLinear().domain([0,115.3]).range([118.7,3.3]);
var treeSegs=[];
function walk(node){
    if(typeof node==='number'){
        return {y:yScale(metabolites[node-1])+yScale.bandwidth()/2,h:0};
    }
    var a=walk(node[1]),b=walk(node[2]);
    var x=hScale(node[0]);
    treeSegs.push('M'+hScale(a.h)+' '+a.y+'H'+x+'V'+b.y+'H'+hScale(b.h));
    return {y:(a.y+b.y)/2,h:node[0]};
}
walk(clusterTree);
svg.append('g').selectAll('path').data(treeSegs).enter().append('path')
    .attr('class','treeline')
    .attr('d',function(d){return d});

//color legend
var legendX=d3.scaleLinear().domain([-4.4,4.4]).range([12,66]);
var legend=svg.append('g').attr('class','legend');
var legendSteps=d3.range(-4.4,4.4,.4);
legend.selectAll('rect').data(legendSteps).enter().append('rect')
    .attr('x',function(d){return legendX(d)})
    .attr('y',10)
    .attr('width',legendX(.4)-legendX(0)+.3)
    .attr('height',13.5)
    .attr('fill',function(d){return colorScale(d+.2)});
legend.append('text')
    .attr('x',legendX(0)).attr('y',7.5)
    .attr('text-anchor','middle')
    .text('z-score');
var legendAxis=d3.axisBottom(legendX)
    .tickValues(legendTicks)
    .tickSize(4)
    .tickFormat(function(d,i){return legendTickLabels[i]});
var legendG=legend.append('g').attr('transform','translate(0,23.5)').call(legendAxis);
legendG.select('.domain').remove();
legendG.selectAll('line').attr('stroke','#444');
legendG.selectAll('text').attr('y',13.5).attr('dy','.35em').attr('font-family',null).attr('font-size',null);
</script>
</body>
</html>
